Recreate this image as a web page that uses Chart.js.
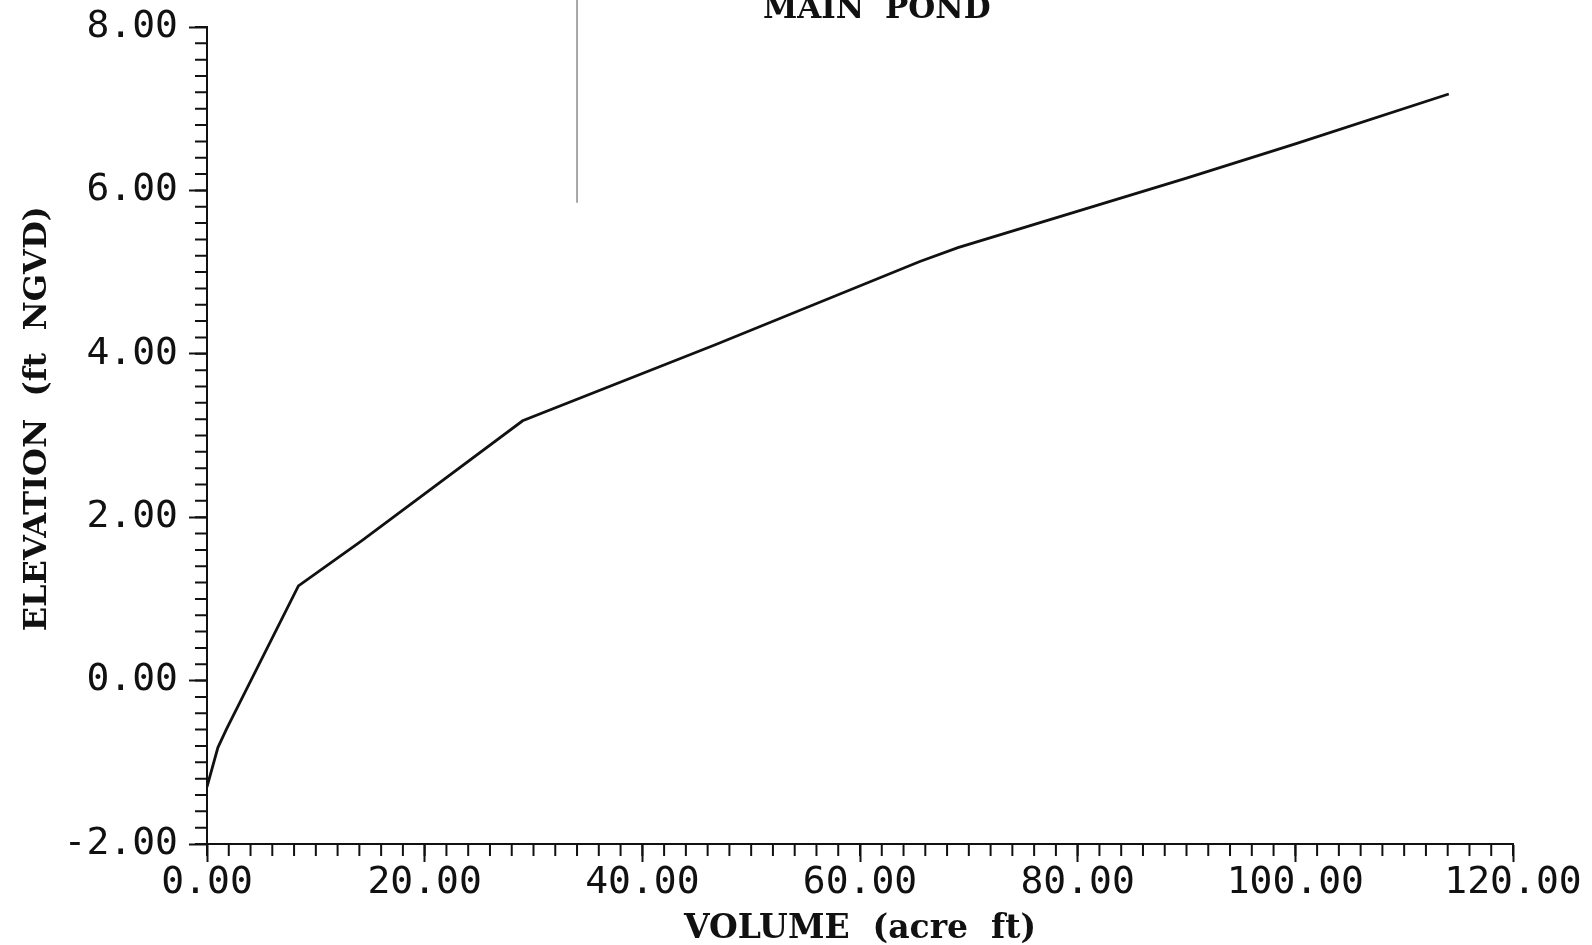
<!DOCTYPE html>
<html>
<head>
<meta charset="utf-8">
<script src="https://cdn.jsdelivr.net/npm/chart.js@4.4.0/dist/chart.umd.min.js"></script>
<style>
  html, body { margin: 0; padding: 0; background: #fff; }
  #wrap { width: 1592px; height: 945px; position: relative; }
</style>
</head>
<body>
<div id="wrap"><canvas id="pond" width="1592" height="945"></canvas></div>
<script>
// stage-storage curve
const volume = [0, 1.0, 1.8, 8.4, 14.2, 29.0, 46.7, 65.5, 69.0, 90.0, 100.0, 114.1];
const elevation = [-1.30, -0.82, -0.59, 1.16, 1.71, 3.18, 4.11, 5.13, 5.30, 6.15, 6.57, 7.18];

// the thin vertical stroke near the top of the scan
const strokeX = [34.0, 34.0];
const strokeY = [5.85, 8.33];

const xTicks = [0, 20, 40, 60, 80, 100, 120];
const yTicks = [-2, 0, 2, 4, 6, 8];
const xMinorStep = 2;
const yMinorStep = 0.2;

const tickFont = { family: "DejaVu Sans Mono", size: 38, lineHeight: 0.8 };

// minor ticks between the labelled ones
const minorTicks = {
    id: "minorTicks",
    afterDraw(chart) {
        const { ctx, chartArea, scales: { x, y } } = chart;
        ctx.save();
        ctx.strokeStyle = "#111";
        ctx.lineWidth = 2;
        ctx.beginPath();
        const nx = Math.round((x.max - x.min) / xMinorStep);
        for (let i = 0; i <= nx; i++) {
            const px = x.getPixelForValue(x.min + i * xMinorStep);
            ctx.moveTo(px, chartArea.bottom);
            ctx.lineTo(px, chartArea.bottom + 12);
        }
        const ny = Math.round((y.max - y.min) / yMinorStep);
        for (let i = 0; i <= ny; i++) {
            const py = y.getPixelForValue(y.min + i * yMinorStep);
            ctx.moveTo(chartArea.left, py);
            ctx.lineTo(chartArea.left - 12, py);
        }
        ctx.stroke();
        ctx.restore();
    }
};

// cut-off heading at the top of the page
const heading = {
    id: "heading",
    afterDraw(chart) {
        const ctx = chart.ctx;
        ctx.save();
        ctx.fillStyle = "#111";
        ctx.font = "bold 31px 'DejaVu Serif'";
        ctx.textBaseline = "alphabetic";
        ctx.textAlign = "left";
        ctx.fillText("MAIN", 763, 18);
        ctx.fillText("POND", 885, 18);
        ctx.restore();
    }
};

new Chart(document.getElementById("pond"), {
    type: "line",
    data: {
        datasets: [
            {
                label: "Main pond",
                data: volume.map((v, i) => ({ x: v, y: elevation[i] })),
                borderColor: "#111",
                borderWidth: 2.8,
                pointRadius: 0,
                tension: 0,
                fill: false
            },
            {
                label: "scan mark",
                data: strokeX.map((v, i) => ({ x: v, y: strokeY[i] })),
                borderColor: "#777",
                borderWidth: 1.3,
                pointRadius: 0,
                clip: false
            }
        ]
    },
    options: {
        responsive: false,
        animation: false,
        layout: { padding: { top: 27, right: 79, left: 0, bottom: 0 } },
        plugins: {
            legend: { display: false },
            tooltip: { enabled: false }
        },
        scales: {
            x: {
                type: "linear",
                min: 0,
                max: 120,
                afterFit: s => { s.height = 101; },
                afterBuildTicks: s => { s.ticks = xTicks.map(v => ({ value: v })); },
                border: { display: true, color: "#111", width: 2 },
                grid: { drawOnChartArea: false, tickLength: 18, tickWidth: 2, tickColor: "#111" },
                ticks: {
                    color: "#111",
                    font: tickFont,
                    padding: 6,
                    maxRotation: 0,
                    autoSkip: false,
                    callback: v => v.toFixed(2)
                },
                title: {
                    display: true,
                    text: "VOLUME  (acre  ft)",
                    color: "#111",
                    font: { family: "DejaVu Serif", weight: "bold", size: 33 },
                    padding: { top: 0, bottom: -4 }
                }
            },
            y: {
                type: "linear",
                min: -2,
                max: 8,
                afterFit: s => { s.width = 207; },
                afterBuildTicks: s => { s.ticks = yTicks.map(v => ({ value: v })); },
                border: { display: true, color: "#111", width: 2 },
                grid: { drawOnChartArea: false, tickLength: 18, tickWidth: 2, tickColor: "#111" },
                ticks: {
                    color: "#111",
                    font: tickFont,
                    padding: 11,
                    autoSkip: false,
                    callback: v => v.toFixed(2)
                },
                title: {
                    display: true,
                    text: "   ELEVATION  (ft  NGVD)",
                    color: "#111",
                    font: { family: "DejaVu Serif", weight: "bold", size: 32 },
                    padding: { top: 18, bottom: 0 }
                }
            }
        }
    },
    plugins: [minorTicks, heading]
});
</script>
</body>
</html>
